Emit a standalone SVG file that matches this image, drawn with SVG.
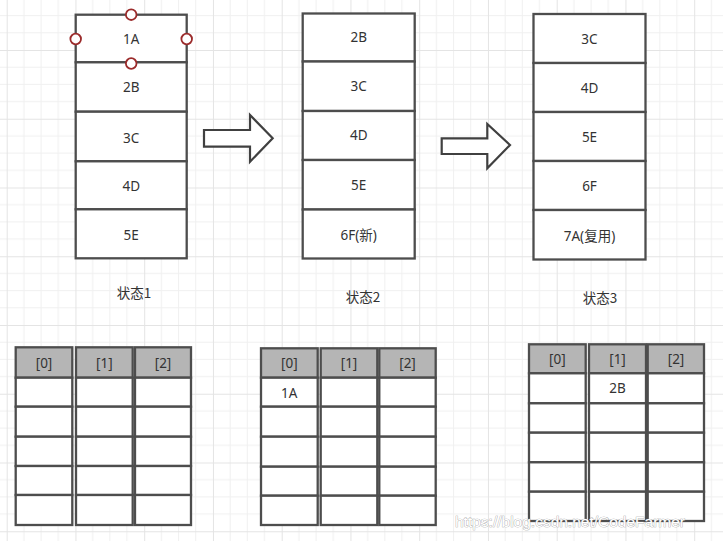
<svg xmlns="http://www.w3.org/2000/svg" width="723" height="541" viewBox="0 0 723 541">
<defs>
<pattern id="grid" patternUnits="userSpaceOnUse" x="6.7" y="50" width="68.75" height="68.75">
<path d="M17.19 0V68.75M34.38 0V68.75M51.56 0V68.75M0 17.19H68.75M0 34.38H68.75M0 51.56H68.75" stroke="#f0f0f0" stroke-width="1" fill="none"/>
<path d="M0.5 0V68.75M0 0.5H68.75" stroke="#e4e4e4" stroke-width="1" fill="none"/>
</pattern>
</defs>
<style>
.cell{fill:#fff;stroke:#4d4d4d;stroke-width:2.3}
.hdr{fill:#b5b5b5;stroke:#4d4d4d;stroke-width:2.3}
.t{font-family:"Noto Sans","Noto Sans CJK SC",sans-serif;font-size:13.5px;fill:#333;text-anchor:middle;dominant-baseline:central}
.lbl{font-family:"Noto Sans CJK SC","Noto Sans",sans-serif;font-size:13.5px;fill:#333;text-anchor:middle;dominant-baseline:central}
.arrow{fill:#fff;stroke:#404040;stroke-width:2.2;stroke-linejoin:miter}
.pt{fill:#fff;stroke:#9b2b2b;stroke-width:1.8}
.wm{font-family:"Liberation Sans",sans-serif;font-size:15.5px;fill:#fff;stroke:#9a9a9a;stroke-width:0.7;paint-order:stroke}
</style>
<rect width="723" height="541" fill="#fff"/>
<rect width="723" height="541" fill="url(#grid)"/>

<g id="connectors">
<path class="arrow" d="M204 130H250V115L272.7 138.3L250 161.7V146.7H204Z"/>
<path class="arrow" d="M441.7 138.3H487.3V124L510 145L487.3 168.3V154H441.7Z"/>
</g>

<g id="stack1">
<g id="s1-1A"><rect class="cell" x="75.7" y="14.7" width="111" height="47.6"/><text class="t" x="131.2" y="39">1A</text></g>
<g id="s1-2B"><rect class="cell" x="75.7" y="62.3" width="111" height="49.4"/><text class="t" x="131.2" y="87">2B</text></g>
<g id="s1-3C"><rect class="cell" x="75.7" y="111.7" width="111" height="49.6"/><text class="t" x="131.2" y="138">3C</text></g>
<g id="s1-4D"><rect class="cell" x="75.7" y="161.3" width="111" height="48"/><text class="t" x="131.2" y="186">4D</text></g>
<g id="s1-5E"><rect class="cell" x="75.7" y="209.3" width="111" height="49"/><text class="t" x="131.2" y="235">5E</text></g>
<g id="s1-points">
<circle class="pt" cx="131.2" cy="14.7" r="5.3"/>
<circle class="pt" cx="75.7" cy="39" r="5.3"/>
<circle class="pt" cx="186.7" cy="39" r="5.3"/>
<circle class="pt" cx="131.2" cy="63.5" r="5.3"/>
</g>
<text class="lbl" x="134" y="292">状态1</text>
</g>

<g id="stack2">
<g id="s2-2B"><rect class="cell" x="302.7" y="13.5" width="112" height="48"/><text class="t" x="358.7" y="37">2B</text></g>
<g id="s2-3C"><rect class="cell" x="302.7" y="61.5" width="112" height="49.5"/><text class="t" x="358.7" y="86">3C</text></g>
<g id="s2-4D"><rect class="cell" x="302.7" y="111" width="112" height="49"/><text class="t" x="358.7" y="135">4D</text></g>
<g id="s2-5E"><rect class="cell" x="302.7" y="160" width="112" height="49.5"/><text class="t" x="358.7" y="185">5E</text></g>
<g id="s2-6F"><rect class="cell" x="302.7" y="209.5" width="112" height="49"/><text class="t" x="358.7" y="235">6F(新)</text></g>
<text class="lbl" x="363" y="296">状态2</text>
</g>

<g id="stack3">
<g id="s3-3C"><rect class="cell" x="533.5" y="14" width="112" height="49"/><text class="t" x="589.5" y="39">3C</text></g>
<g id="s3-4D"><rect class="cell" x="533.5" y="63" width="112" height="49"/><text class="t" x="589.5" y="88">4D</text></g>
<g id="s3-5E"><rect class="cell" x="533.5" y="112" width="112" height="49"/><text class="t" x="589.5" y="137">5E</text></g>
<g id="s3-6F"><rect class="cell" x="533.5" y="161" width="112" height="49"/><text class="t" x="589.5" y="186">6F</text></g>
<g id="s3-7A"><rect class="cell" x="533.5" y="210" width="112" height="49.5"/><text class="t" x="589.5" y="236">7A(复用)</text></g>
<text class="lbl" x="600" y="297">状态3</text>
</g>

<g id="table1">
<rect class="hdr" x="15.7" y="347.3" width="56.6" height="30.4"/><text class="t" x="44" y="362.5">[0]</text>
<rect class="hdr" x="76" y="347.3" width="56.7" height="30.4"/><text class="t" x="104.3" y="362.5">[1]</text>
<rect class="hdr" x="135" y="347.3" width="56" height="30.4"/><text class="t" x="163" y="362.5">[2]</text>
<rect class="cell" x="15.7" y="377.7" width="56.6" height="29"/><rect class="cell" x="15.7" y="406.7" width="56.6" height="30"/><rect class="cell" x="15.7" y="436.7" width="56.6" height="29.3"/><rect class="cell" x="15.7" y="466" width="56.6" height="29"/><rect class="cell" x="15.7" y="495" width="56.6" height="30"/>
<rect class="cell" x="76" y="377.7" width="56.7" height="29"/><rect class="cell" x="76" y="406.7" width="56.7" height="30"/><rect class="cell" x="76" y="436.7" width="56.7" height="29.3"/><rect class="cell" x="76" y="466" width="56.7" height="29"/><rect class="cell" x="76" y="495" width="56.7" height="30"/>
<rect class="cell" x="135" y="377.7" width="56" height="29"/><rect class="cell" x="135" y="406.7" width="56" height="30"/><rect class="cell" x="135" y="436.7" width="56" height="29.3"/><rect class="cell" x="135" y="466" width="56" height="29"/><rect class="cell" x="135" y="495" width="56" height="30"/>
</g>

<g id="table2">
<rect class="hdr" x="261" y="348.3" width="56.7" height="29.4"/><text class="t" x="289.3" y="363">[0]</text>
<rect class="hdr" x="320.7" y="348.3" width="56.6" height="29.4"/><text class="t" x="349" y="363">[1]</text>
<rect class="hdr" x="379.3" y="348.3" width="56.4" height="29.4"/><text class="t" x="407.5" y="363">[2]</text>
<rect class="cell" x="261" y="377.7" width="56.7" height="29"/><rect class="cell" x="261" y="406.7" width="56.7" height="30"/><rect class="cell" x="261" y="436.7" width="56.7" height="30"/><rect class="cell" x="261" y="466.7" width="56.7" height="29"/><rect class="cell" x="261" y="495.7" width="56.7" height="29.3"/>
<rect class="cell" x="320.7" y="377.7" width="56.6" height="29"/><rect class="cell" x="320.7" y="406.7" width="56.6" height="30"/><rect class="cell" x="320.7" y="436.7" width="56.6" height="30"/><rect class="cell" x="320.7" y="466.7" width="56.6" height="29"/><rect class="cell" x="320.7" y="495.7" width="56.6" height="29.3"/>
<rect class="cell" x="379.3" y="377.7" width="56.4" height="29"/><rect class="cell" x="379.3" y="406.7" width="56.4" height="30"/><rect class="cell" x="379.3" y="436.7" width="56.4" height="30"/><rect class="cell" x="379.3" y="466.7" width="56.4" height="29"/><rect class="cell" x="379.3" y="495.7" width="56.4" height="29.3"/>
<text class="t" x="289.3" y="392.5">1A</text>
</g>

<g id="table3">
<rect class="hdr" x="529" y="344.3" width="56.7" height="29"/><text class="t" x="557.3" y="359">[0]</text>
<rect class="hdr" x="589" y="344.3" width="57" height="29"/><text class="t" x="617.5" y="359">[1]</text>
<rect class="hdr" x="647.7" y="344.3" width="56.3" height="29"/><text class="t" x="676" y="359">[2]</text>
<rect class="cell" x="529" y="373.3" width="56.7" height="30"/><rect class="cell" x="529" y="403.3" width="56.7" height="29.4"/><rect class="cell" x="529" y="432.7" width="56.7" height="29.6"/><rect class="cell" x="529" y="462.3" width="56.7" height="29.4"/><rect class="cell" x="529" y="491.7" width="56.7" height="29.3"/>
<rect class="cell" x="589" y="373.3" width="57" height="30"/><rect class="cell" x="589" y="403.3" width="57" height="29.4"/><rect class="cell" x="589" y="432.7" width="57" height="29.6"/><rect class="cell" x="589" y="462.3" width="57" height="29.4"/><rect class="cell" x="589" y="491.7" width="57" height="29.3"/>
<rect class="cell" x="647.7" y="373.3" width="56.3" height="30"/><rect class="cell" x="647.7" y="403.3" width="56.3" height="29.4"/><rect class="cell" x="647.7" y="432.7" width="56.3" height="29.6"/><rect class="cell" x="647.7" y="462.3" width="56.3" height="29.4"/><rect class="cell" x="647.7" y="491.7" width="56.3" height="29.3"/>
<text class="t" x="617.5" y="388">2B</text>
</g>

<text class="wm" x="455" y="527">https://blog.csdn.net/CodeFarmer</text>
</svg>
